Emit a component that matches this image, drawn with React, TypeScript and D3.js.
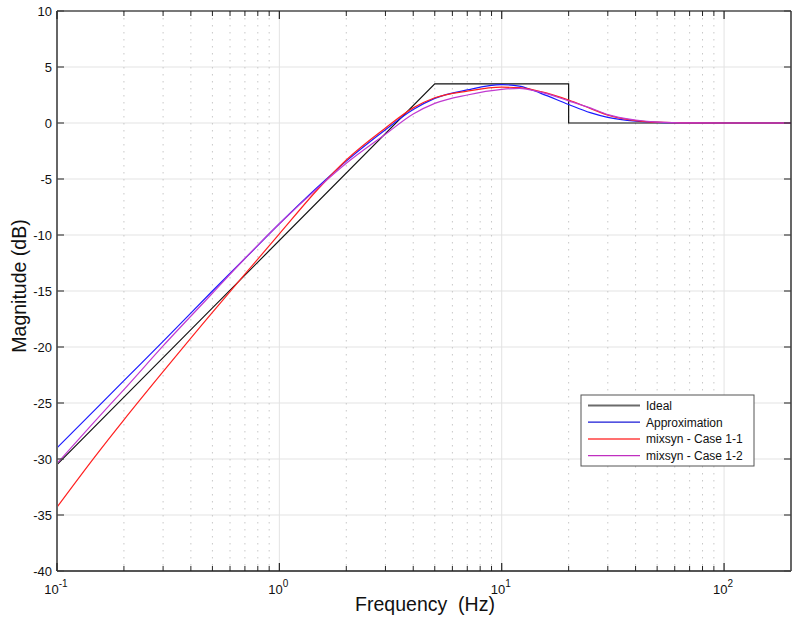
import React from "react";
import * as d3 from "d3";

const freqs = [0.1, 0.15, 0.2, 0.3, 0.5, 0.7, 1, 1.5, 2, 3, 4, 5, 7, 10, 12, 15, 20, 25, 30, 40, 50, 70, 100, 200];
const approxMag = [-29.0, -25.5, -23.0, -19.5, -15.0, -12.1, -9.0, -5.65, -3.4, -0.6, 1.2, 2.2, 2.95, 3.42, 3.3, 2.65, 1.65, 0.92, 0.5, 0.16, 0.05, 0.01, 0, 0];
const case11Mag = [-34.3, -29.65, -26.5, -22.2, -16.9, -13.5, -9.9, -5.85, -3.3, -0.45, 1.35, 2.25, 2.85, 3.2, 3.15, 2.8, 2.05, 1.3, 0.7, 0.22, 0.07, 0.01, 0, 0];
const case12Mag = [-30.4, -26.5, -23.8, -19.9, -15.2, -12.1, -9.0, -5.75, -3.6, -1.0, 0.8, 1.75, 2.5, 3.0, 3.1, 2.75, 1.98, 1.35, 0.75, 0.27, 0.08, 0.01, 0, 0];
const idealFreq = [0.1, 5, 20, 20, 200];
const idealMag = [-30.5, 3.5, 3.5, 0, 0];

const yTicks = [10, 5, 0, -5, -10, -15, -20, -25, -30, -35, -40];
const xDecades = [0.1, 1, 10, 100];
const xDecadeExp = ["-1", "0", "1", "2"];
const legendLabels = ["Ideal", "Approximation", "mixsyn - Case 1-1", "mixsyn - Case 1-2"];

const W = 795, H = 627;
const L = 57, R = 791, T = 11, B = 571;

export default function App() {
  const x = d3.scaleLog().domain([0.1, 200]).range([L, R]);
  const y = d3.scaleLinear().domain([-40, 10]).range([B, T]);
  const minor: number[] = [];
  for (const d of [0.1, 1, 10, 100]) {
    for (let k = 2; k <= 9; k++) {
      const v = d * k;
      if (v < 200) minor.push(v);
    }
  }
  const smooth = d3.line<[number, number]>().x((d) => x(d[0])).y((d) => y(d[1])).curve(d3.curveMonotoneX);
  const straight = d3.line<[number, number]>().x((d) => x(d[0])).y((d) => y(d[1]));
  const pts = (m: number[]) => freqs.map((f, i) => [f, m[i]] as [number, number]);
  const ideal = idealFreq.map((f, i) => [f, idealMag[i]] as [number, number]);
  const font = "'Liberation Sans', Arial, sans-serif";
  const legendColors = ["#6b6b6b", "#1a1ad6", "#ff7070", "#c02ec0"];
  const legendWidths = [2, 1.2, 2, 1.2];
  return (
    <svg width={W} height={H} style={{ position: "absolute", left: 0, top: 0, background: "#fff" }} fontFamily={font}>
      <rect x={0} y={0} width={W} height={H} fill="#fff" />
      {/* grid */}
      {yTicks.map((t) => (
        <line key={"gy" + t} x1={L} x2={R} y1={y(t)} y2={y(t)} stroke="#e3e3e3" strokeWidth={1} />
      ))}
      {xDecades.map((d) => (
        <line key={"gx" + d} x1={x(d)} x2={x(d)} y1={T} y2={B} stroke="#e3e3e3" strokeWidth={1} />
      ))}
      {minor.map((m) => (
        <line key={"gm" + m} x1={x(m)} x2={x(m)} y1={T} y2={B} stroke="#c8c8c8" strokeWidth={1} strokeDasharray="1.5,5.5" />
      ))}
      {/* curves */}
      <path d={straight(ideal) || ""} fill="none" stroke="#111" strokeWidth={1.2} />
      <path d={smooth(pts(approxMag)) || ""} fill="none" stroke="#1a1aff" strokeWidth={1.2} />
      <path d={smooth(pts(case11Mag)) || ""} fill="none" stroke="#ff2020" strokeWidth={1.2} />
      <path d={smooth(pts(case12Mag)) || ""} fill="none" stroke="#c03ad0" strokeWidth={1.2} />
      {/* frame */}
      <line x1={L} x2={R} y1={T} y2={T} stroke="#000" strokeWidth={1.2} />
      <line x1={R} x2={R} y1={T} y2={B} stroke="#000" strokeWidth={1.2} />
      <line x1={L} x2={R} y1={B} y2={B} stroke="#555" strokeWidth={1.8} />
      <line x1={L} x2={L} y1={T} y2={B} stroke="#666" strokeWidth={2} />
      {/* y ticks */}
      {yTicks.map((t) => (
        <g key={"yt" + t}>
          <line x1={L} x2={L + 7} y1={y(t)} y2={y(t)} stroke="#444" strokeWidth={1.2} />
          <line x1={R - 7} x2={R} y1={y(t)} y2={y(t)} stroke="#444" strokeWidth={1.2} />
          <text x={52} y={y(t)} dy="0.36em" textAnchor="end" fontSize={13} fill="#111">{t}</text>
        </g>
      ))}
      {/* x ticks */}
      {xDecades.map((d) => (
        <g key={"xt" + d}>
          <line x1={x(d)} x2={x(d)} y1={B} y2={B - 8} stroke="#222" strokeWidth={1.2} />
          <line x1={x(d)} x2={x(d)} y1={T} y2={T + 8} stroke="#222" strokeWidth={1.2} />
        </g>
      ))}
      {minor.map((m) => (
        <g key={"xm" + m}>
          <line x1={x(m)} x2={x(m)} y1={B} y2={B - 5} stroke="#222" strokeWidth={1} />
          <line x1={x(m)} x2={x(m)} y1={T} y2={T + 5} stroke="#222" strokeWidth={1} />
        </g>
      ))}
      {xDecades.map((d, i) => (
        <text key={"xl" + d} x={x(d) - 1} y={594} textAnchor="middle" fontSize={13} fill="#111">
          10<tspan fontSize={10} dy={-7}>{xDecadeExp[i]}</tspan>
        </text>
      ))}
      {/* axis titles */}
      <text x={425} y={611} textAnchor="middle" fontSize={19.5} fill="#111" style={{ whiteSpace: "pre" }}>{"Frequency  (Hz)"}</text>
      <text transform={`translate(26,286) rotate(-90)`} textAnchor="middle" fontSize={19.5} fill="#111">Magnitude (dB)</text>
      {/* legend */}
      <g>
        <rect x={581} y={395} width={173} height={71} fill="#fff" stroke="#555" strokeWidth={1} />
        {legendLabels.map((lab, i) => (
          <g key={lab}>
            <line x1={588} x2={640} y1={405.5 + i * 16.7} y2={405.5 + i * 16.7} stroke={legendColors[i]} strokeWidth={legendWidths[i]} />
            <text x={646} y={405.5 + i * 16.7} dy="0.36em" fontSize={12} fill="#111">{lab}</text>
          </g>
        ))}
      </g>
    </svg>
  );
}
